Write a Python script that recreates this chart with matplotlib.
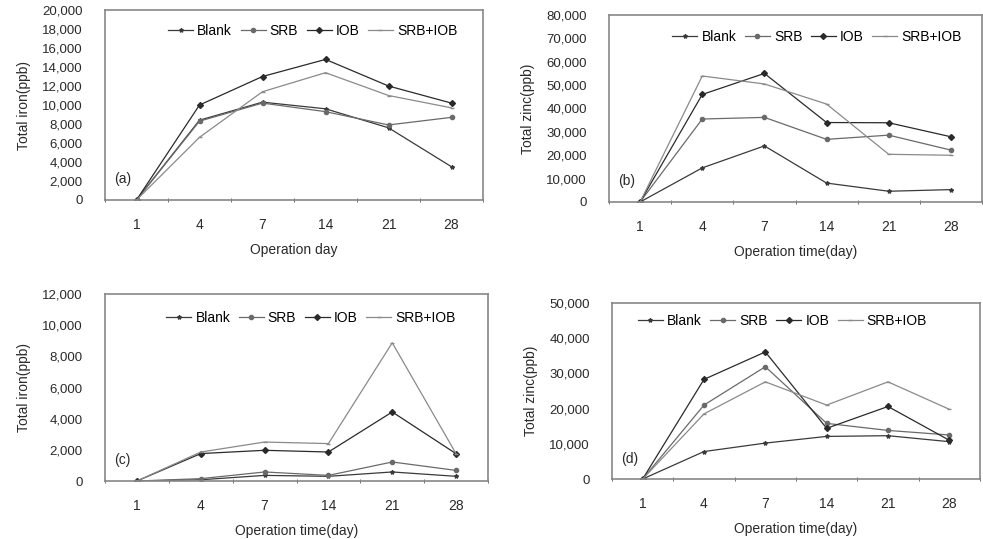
import matplotlib
matplotlib.use("Agg")
import matplotlib.pyplot as plt
import numpy as np

days = ["1", "4", "7", "14", "21", "28"]
series_names = ["Blank", "SRB", "IOB", "SRB+IOB"]

# (a) Total iron
a_blank = [0, 8400, 10300, 9600, 7600, 3500]
a_srb = [0, 8300, 10200, 9300, 7900, 8700]
a_iob = [0, 10000, 13000, 14800, 12000, 10200]
a_srbiob = [0, 6600, 11400, 13400, 11000, 9700]

# (b) Total zinc
b_blank = [0, 14600, 24000, 8100, 4600, 5300]
b_srb = [0, 35500, 36200, 26800, 28600, 22200]
b_iob = [0, 46000, 55000, 34000, 33900, 27900]
b_srbiob = [0, 53900, 50500, 41900, 20400, 20000]

# (c) Total iron
c_blank = [0, 80, 360, 300, 580, 300]
c_srb = [0, 150, 580, 360, 1220, 680]
c_iob = [0, 1760, 1970, 1860, 4430, 1750]
c_srbiob = [0, 1860, 2500, 2400, 8870, 1750]

# (d) Total zinc
d_blank = [0, 7800, 10200, 12100, 12300, 10600]
d_srb = [0, 21000, 31900, 15800, 13800, 12500]
d_iob = [0, 28300, 36100, 14400, 20600, 11000]
d_srbiob = [0, 18500, 27600, 21000, 27600, 19800]

panels = [
    dict(data=[a_blank, a_srb, a_iob, a_srbiob], ymax=20000, step=2000,
         ylabel="Total iron(ppb)", xlabel="Operation day", tag="(a)",
         rect=(105, 10, 483, 200), leg=(0.167, 0.925)),
    dict(data=[b_blank, b_srb, b_iob, b_srbiob], ymax=80000, step=10000,
         ylabel="Total zinc(ppb)", xlabel="Operation time(day)", tag="(b)",
         rect=(609, 15, 982, 202), leg=(0.17, 0.92)),
    dict(data=[c_blank, c_srb, c_iob, c_srbiob], ymax=12000, step=2000,
         ylabel="Total iron(ppb)", xlabel="Operation time(day)", tag="(c)",
         rect=(105, 294, 488, 481), leg=(0.16, 0.91)),
    dict(data=[d_blank, d_srb, d_iob, d_srbiob], ymax=50000, step=10000,
         ylabel="Total zinc(ppb)", xlabel="Operation time(day)", tag="(d)",
         rect=(612, 303, 980, 479), leg=(0.07, 0.94)),
]

W, H = 983, 539
fig = plt.figure(figsize=(W / 100, H / 100), dpi=100)
plt.rcParams['font.family'] = ['Liberation Sans', 'DejaVu Sans']

colors = ["#3a3a3a", "#6a6a6a", "#2a2a2a", "#8a8a8a"]
markers = ["*", "o", "D", "_"]
tc = "#2a2a2a"

x = np.arange(len(days))
for p in panels:
    l, t, r, b = p["rect"]
    ax = fig.add_axes([l / W, 1 - b / H, (r - l) / W, (b - t) / H])
    for vals, name, c, m in zip(p["data"], series_names, colors, markers):
        ax.plot(x, vals, color=c, lw=0.9, marker=m, ms=3, mfc=c, mec=c,
                label=name)
    ax.set_xlim(-0.5, len(days) - 0.5)
    ax.set_ylim(0, p["ymax"])
    yt = np.arange(0, p["ymax"] + 1, p["step"])
    ax.set_yticks(yt)
    ax.set_yticklabels([f"{int(v):,}" for v in yt], fontsize=9.5, color=tc)
    ax.set_xticks(x)
    ax.set_xticklabels(days, fontsize=10, color=tc)
    ax.set_xticks(np.arange(-0.5, len(days) - 0.4, 1), minor=True)
    ax.tick_params(axis="x", which="major", length=0, pad=13)
    ax.tick_params(axis="x", which="minor", length=3, direction="inout",
                   color="#555555")
    ax.tick_params(axis="y", length=0, pad=16)
    for s in ax.spines.values():
        s.set_color("#888888")
        s.set_linewidth(1.2)
    ax.set_ylabel(p["ylabel"], fontsize=10, color=tc, labelpad=8)
    ax.set_xlabel(p["xlabel"], fontsize=10, color=tc, labelpad=8)
    ax.text(0.025, 0.09, p["tag"], transform=ax.transAxes, fontsize=10,
            color=tc)
    ax.legend(loc="upper left", bbox_to_anchor=p["leg"], ncol=4,
              frameon=False, fontsize=10, handlelength=1.8, columnspacing=0.6,
              handletextpad=0.3, borderaxespad=0, borderpad=0)

fig.savefig("out.png", dpi=100)
